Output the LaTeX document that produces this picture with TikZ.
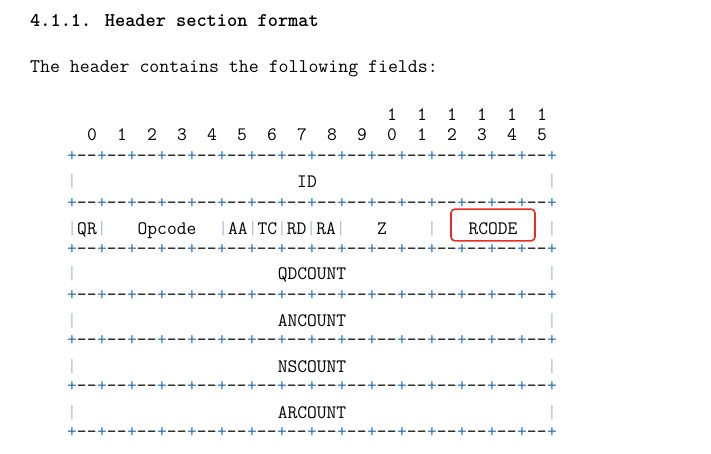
\documentclass[tikz,border=0pt]{standalone}
\usepackage{tikz}
\usetikzlibrary{positioning}
\definecolor{pluscol}{RGB}{45,110,175}
\definecolor{barcol}{RGB}{175,190,205}
\definecolor{boxred}{RGB}{232,45,35}
\tikzset{
    mono/.style = {
        font=\ttfamily\fontsize{19}{23}\selectfont,
        inner sep=0pt,
        anchor=base
    },
    body/.style = {
        font=\ttfamily\fontsize{19.3}{23}\selectfont,
        inner sep=0pt,
        anchor=base west
    },
    heading/.style = {
        font=\ttfamily\bfseries\fontsize{19.4}{23}\selectfont,
        inner sep=0pt,
        anchor=base west
    },
    bar/.style = {
        mono,
        text=barcol
    },
    sepcell/.style = {
        mono,
        anchor=base west
    },
    rbox/.style = {
        mono,
        draw=boxred,
        line width=1.6pt,
        rounded corners=4pt,
        minimum width=84pt,
        text height=24.9pt,
        text depth=6.9pt
    },
}
\newcommand{\pl}{\textcolor{pluscol}{+}}
\newcommand{\vb}{\textcolor{barcol}{|}}

\begin{document}
\begin{tikzpicture}[x=1pt,y=-1pt]
                \useasboundingbox (0,0) rectangle (711,454);

                \node[heading] (title) at (30,27) {4.1.1. Header section format};
                \node[body] (intro) at (30,73) {The header contains the following fields:};

                % bit numbers
                \foreach \b in {0,...,15} {
                    \pgfmathtruncatemacro{\lo}{mod(\b,10)}
                    \node[mono] (bit\b) at (92+30*\b,141) {\lo};
                }
                \foreach \b in {10,...,15}
                    \node[mono] (tens\b) at (92+30*\b,120.5) {1};

                % separator lines
                \foreach \r/\y in {0/161.5, 1/208, 2/254, 3/300, 4/345, 5/391, 6/437.5} {
                    \foreach \k in {0,...,15}
                        \node[sepcell] (s\r-\k) at (67+30*\k,\y) {\pl-{}-};
                    \node[sepcell] (s\r-end) at (547,\y) {\pl};
                }

                % ID row
                \node[bar] (idl) at (72,188) {|};
                \node[mono] (id) at (307,188) {ID};
                \node[bar] (idr) at (552,188) {|};

                % flags row
                \node[mono] (qr) at (87,234) {\vb QR\vb};
                \node[mono] (opcode) at (167,234) {Opcode};
                \node[mono] (flags) at (282,234) {\vb AA\vb TC\vb RD\vb RA\vb};
                \node[mono] (z) at (382,234) {Z};
                \node[bar] (zr) at (432,234) {|};
                \node[rbox] (rcode) at (493,234) {RCODE};
                \node[bar] (rcoder) at (552,234) {|};

                % count rows
                \foreach \name/\y in {QDCOUNT/279, ANCOUNT/326, NSCOUNT/372, ARCOUNT/418} {
                    \node[bar] (\name l) at (72,\y) {|};
                    \node[mono] (\name) at (312,\y) {\name};
                    \node[bar] (\name r) at (552,\y) {|};
                }
            \end{tikzpicture}
\end{document}
